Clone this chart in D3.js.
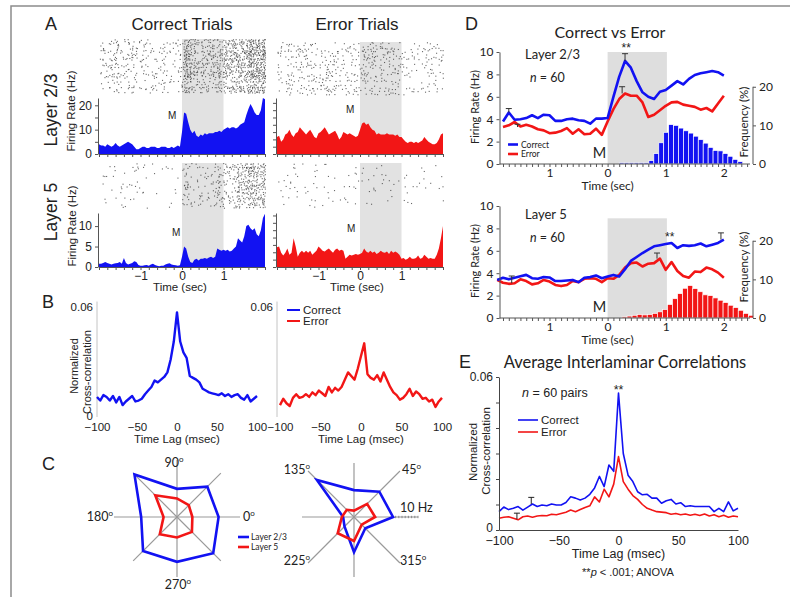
<!DOCTYPE html>
<html>
<head>
<meta charset="utf-8">
<script src="https://cdn.jsdelivr.net/npm/d3@7"></script>
<style>
  body { margin: 0; background: #fff; }
  svg { display: block; }
</style>
</head>
<body>
<svg id="fig" width="790" height="597"></svg>
<script>
// ---------------- data ----------------
// A: PSTH, 50 ms steps from -2 to 2 s
var psthTime = d3.range(81).map(function(i) { return -2 + i * 0.05; });
var psthCorrectL23 = [4,3.5,3.5,3,4,3.5,3,3.5,4.5,3.5,3,3.5,4,4.5,5,4.5,4,3,2,
  2,2.5,3,3,2.5,2.5,3,3,3,2.5,2.5,3,3,3,2.5,2.5,3,2.5,3,3.5,3,
  9,17,16.5,13,10,8.5,9.5,7.5,7,8,7.5,8.5,8,8.5,8.5,8.5,9,9,9.5,9,
  10,10.5,11,10.5,11,11,10.5,11,12,12.5,13,16,18.5,20.5,19,17,16,16,18,23,22.5];
var psthErrorL23 = [7,7.5,5,6,8,8.5,10,8,7,8.5,9,11,10,9,8,9,10,8.5,7,
  6.5,8.5,9,10,11,9.5,8,8.5,9,9.5,8,6,7,9,8.5,8,8.5,8,7.5,7,7.5,
  10,12.5,13,12,12.5,11,10,9.5,8,8.5,8,8,8,8.5,8,8,8,7.5,8,7,
  7,6,5,4.5,5,5,4.5,5,4.5,5,5.5,7,6,5,4.5,4,4,4.5,6,8,8.5];
var psthCorrectL5 = [0.8,0.8,1,1.2,1,0.8,0.6,0.8,0.9,1,1.2,0.8,2.2,1,0.6,0.8,1,1.4,1.2,
  0.5,0.3,0.3,0.4,0.5,0.3,0.6,0.8,0.5,0.3,0.2,0.3,0.3,0.6,0.8,0.9,0.6,0.5,0.4,0.3,0.4,
  2.5,5,4.5,2.5,1.2,1,1.8,2,1.6,2,2,2.2,2,2.3,2.5,2.2,2.5,4.5,4.2,4,
  4.2,4,4.2,3.8,4,4.5,5,7,6.5,6,7.5,10,10.3,9.5,9,9.5,8,7.5,9,12,13];
var psthErrorL5 = [4.8,5,3.5,2.8,3.5,4.5,3,3.5,7,5,2.5,3.5,4,3.5,4,3.5,4,3,3.5,
  4,5,4.5,4,3.8,4.2,4.5,4,3.5,4.2,4.5,4,4.2,4,2,2.5,3,2.8,3,3.2,3,
  3.2,3.5,4.5,3.8,3.5,4,3.5,3.8,3.2,3.5,4,3.6,3.5,3.8,3.2,4,3.5,3.8,3.5,3,
  2,2.2,1.8,2,2.5,2,2,2.2,2.8,2,2.2,3,2.5,2,2.2,2,2,3,4.5,7,10];

// B: cross-correlation, 4 ms steps from -100 to 100 ms
var lagB = d3.range(51).map(function(i) { return -100 + i * 4; });
var ccCorrectB = [.0105,.0085,.0115,.0105,.0085,.0110,.0075,.0105,.0060,.0080,.0095,.0110,.0080,.0085,.0095,.0120,.0140,.0160,.0195,.0185,.0200,.0215,.0240,.0310,.0410,
  .0570,.0410,.0350,.0320,.0220,.0210,.0200,.0185,.0150,.0140,.0130,.0125,.0120,.0115,.0125,.0110,.0120,.0105,.0115,.0120,.0100,.0090,.0115,.0080,.0095,.0110];
var ccErrorB = [.0060,.0095,.0070,.0055,.0100,.0120,.0100,.0105,.0120,.0105,.0130,.0115,.0140,.0125,.0110,.0160,.0130,.0155,.0140,.0160,.0200,.0240,.0220,.0200,.0260,
  .0330,.0400,.0230,.0210,.0200,.0225,.0190,.0240,.0200,.0160,.0130,.0115,.0090,.0100,.0120,.0150,.0110,.0135,.0120,.0095,.0100,.0080,.0090,.0050,.0080,.0100];

// C: firing rate by direction (Hz), angles 0..315
var dirAngles = [0, 45, 90, 135, 180, 225, 270, 315];
var tuneL23Left = [6.5, 6.7, 4.4, 9.4, 5.6, 7.5, 7.0, 8.0];
var tuneL5Left = [2.4, 2.6, 2.9, 4.8, 2.1, 3.8, 3.2, 3.3];
var tuneL23Right = [6.1, 5.6, 4.2, 8.2, 1.7, 2.1, 5.5, 2.5];
var tuneL5Right = [3.3, 2.9, 1.0, 1.6, 1.9, 3.6, 3.75, 1.7];

// D: firing rate, 100 ms steps
var timeDTop = d3.range(39).map(function(i) { return -1.8 + i * 0.1; });
var rateCorrectL23 = [3.8,4.6,3.95,4.0,4.1,4.35,4.1,4.4,4.35,3.85,3.85,4.0,4.05,3.9,3.85,3.6,4.05,4.05,4.1,
  6.0,7.8,9.2,8.6,7.4,6.4,6.0,5.8,6.45,6.6,7.0,7.4,7.1,7.6,7.95,8.1,8.2,8.3,8.2,7.9];
var rateErrorL23 = [3.3,3.45,3.75,3.35,3.5,3.35,3.1,3.0,2.75,2.8,2.95,3.2,2.7,3.1,2.65,2.7,3.15,2.6,3.8,
  4.9,5.8,6.3,6.1,6.1,5.5,4.2,4.4,4.8,5.2,5.5,5.55,5.3,5.2,5.1,4.85,5.0,4.7,5.4,6.1];
var timeDBottom = d3.range(40).map(function(i) { return -1.9 + i * 0.1; });
var rateCorrectL5 = [3.4,3.6,3.45,3.6,3.72,3.85,3.55,3.5,3.65,3.62,3.3,3.3,3.35,3.4,3.2,3.6,3.65,3.8,3.55,3.7,
  3.85,3.7,4.35,5.1,5.45,5.8,6.1,6.4,6.5,6.6,6.7,6.25,6.5,6.44,6.5,6.65,6.4,6.55,6.7,7.0];
var rateErrorL5 = [3.4,3.15,3.05,3.1,3.45,3.3,3.0,3.1,3.4,3.25,2.95,2.85,2.95,3.3,3.2,3.5,3.56,3.5,3.2,3.55,
  3.5,3.85,4.5,4.9,4.95,4.6,4.85,4.9,5.3,4.3,5.0,4.2,3.75,3.6,4.15,4.1,4.5,4.35,4.05,3.6];
// D: response time histograms (%)
var histCorrectL23 = [0.3,0.3,0.3,0.3,0.3,0.3,0.9,2.7,5.5,8.2,10.2,10.0,9.3,8.6,8.0,7.2,6.3,5.4,4.3,3.5,3.4,2.7,2.0,1.2,0.6];
var histErrorL5 = [0,0.3,0.5,0.7,0.9,0.8,0.9,1.2,1.6,2.2,3.5,5.0,6.3,7.7,8.4,7.6,6.8,6.0,5.8,5.2,4.6,4.0,3.3,2.7,2.0,1.2,0.7];

// E: average interlaminar correlation, 4 ms steps
var lagE = d3.range(51).map(function(i) { return -100 + i * 4; });
var ccCorrectE = [.0072,.0090,.0080,.0085,.0092,.0078,.0090,.0102,.0092,.0098,.0095,.0102,.0098,.0098,.0108,.0130,.0125,.0118,.0125,.0140,.0165,.0210,.0170,.0255,.0230,
  .0537,.0300,.0215,.0190,.0150,.0138,.0140,.0125,.0125,.0105,.0115,.0120,.0102,.0107,.0092,.0095,.0092,.0092,.0092,.0092,.0072,.0085,.0072,.0110,.0075,.0085];
var ccErrorE = [.0046,.0050,.0052,.0046,.0040,.0052,.0055,.0050,.0055,.0057,.0056,.0062,.0060,.0065,.0070,.0078,.0072,.0080,.0088,.0095,.0130,.0110,.0160,.0130,.0180,
  .0288,.0190,.0160,.0135,.0120,.0100,.0085,.0078,.0072,.0070,.0068,.0062,.0065,.0060,.0063,.0058,.0062,.0057,.0063,.0055,.0060,.0052,.0058,.0050,.0055,.0052];

var BLUE = '#1212f2';
var RED = '#f21616';
var ARIAL = '"Liberation Sans", Arial, sans-serif';
var CAL = 'Lato, "Open Sans", sans-serif';

var svg = d3.select('#fig');
svg.append('rect').attr('width', 790).attr('height', 597).attr('fill', '#fff');
// outer frame (left and top edges)
svg.append('path').attr('d', 'M11,597V6H790').attr('fill', 'none').attr('stroke', '#8c8c8c').attr('stroke-width', 1.5);

function txt(g, x, y, s, o) {
  o = o || {};
  var t = g.append('text').attr('x', x).attr('y', y).text(s)
    .attr('font-family', o.font || ARIAL)
    .attr('font-size', o.size || 11)
    .attr('fill', o.fill || '#222')
    .attr('text-anchor', o.anchor || 'start');
  if (o.rotate) t.attr('transform', 'rotate(-90,' + x + ',' + y + ')');
  if (o.style) t.attr('font-style', o.style);
  return t;
}

function styleAxis(ax, color, size, font) {
  ax.selectAll('path, line').attr('stroke', color);
  ax.selectAll('text').attr('fill', '#222').attr('font-size', size).attr('font-family', font || ARIAL);
}

// deterministic jitter for raster texture
function hash(a, b) {
  var s = Math.sin(a * 12.9898 + b * 78.233) * 43758.5453;
  return s - Math.floor(s);
}
function spikeDots(values, rows, gain, seed) {
  var dots = [];
  for (var r = 0; r < rows; r++) {
    var rowGain = 0.4 + 1.2 * hash(r + seed, 0.5);
    for (var i = 0; i < values.length - 1; i++) {
      var lam = values[i] * 0.05 * gain * rowGain;
      var n = Math.floor(lam + hash(r * 3.1 + seed, i * 1.3 + 0.7));
      for (var k = 0; k < n; k++) {
        dots.push({
          row: r + 0.8 * hash(r * 1.7 + k + seed, i * 0.9 + 3.1),
          t: psthTime[i] + 0.05 * hash(r + k * 5.3 + seed, i + k * 2.9 + 0.2)
        });
      }
    }
  }
  return dots;
}

// ---------------- panel A ----------------
function drawPsth(cfg) {
  var g = svg.append('g');
  var x = d3.scaleLinear().domain([-2, 2]).range([cfg.x0, cfg.x1]);
  var y = d3.scaleLinear().domain([0, cfg.yMax]).range([cfg.base, cfg.top]);
  g.append('rect').attr('x', x(0)).attr('width', x(1) - x(0))
    .attr('y', cfg.rasterTop).attr('height', cfg.base - cfg.rasterTop).attr('fill', '#e2e2e2');

  var rowH = (cfg.rasterBottom - cfg.rasterTop) / cfg.rows;
  g.selectAll('rect.spk').data(spikeDots(cfg.values, cfg.rows, cfg.gain, cfg.seed)).join('rect')
    .attr('class', 'spk')
    .attr('x', function(d) { return x(d.t); })
    .attr('y', function(d) { return cfg.rasterTop + d.row * rowH; })
    .attr('width', 1.1).attr('height', 1.1)
    .attr('fill', '#2a2a2a').attr('opacity', 0.7);

  var area = d3.area()
    .x(function(d, i) { return x(psthTime[i]); })
    .y0(cfg.base)
    .y1(function(d) { return y(d); });
  g.append('path').datum(cfg.values).attr('d', area).attr('fill', cfg.color);

  var yAx = g.append('g').attr('transform', 'translate(' + (cfg.x0 - 1) + ',0)')
    .call(d3.axisLeft(y).tickValues(cfg.ticks).tickSize(3).tickSizeOuter(0).tickPadding(3)
      .tickFormat(function(d) { return cfg.labels.indexOf(d) >= 0 ? d : ''; }));
  styleAxis(yAx, '#555', 12);

  var xAx = g.append('g').attr('transform', 'translate(0,' + cfg.base + ')')
    .call(d3.axisBottom(x).tickValues(d3.range(-2, 2.01, 0.2)).tickSize(3).tickSizeOuter(0).tickPadding(1)
      .tickFormat(function(d) {
        var r = Math.round(d * 10) / 10;
        return cfg.xLabels && (r === -1 || r === 0 || r === 1) ? d3.format('d')(r) : '';
      }));
  styleAxis(xAx, '#555', 12);

  txt(g, cfg.mx, cfg.my, 'M', {size: 10});
  if (cfg.xLabels) txt(g, cfg.titleX, cfg.base + 24, 'Time (sec)', {size: 11.5, anchor: 'middle'});
}

drawPsth({x0: 99, x1: 265, rasterTop: 39, rasterBottom: 93, base: 154, top: 98, yMax: 23,
  values: psthCorrectL23, color: BLUE, rows: 40, gain: 0.9, seed: 1,
  ticks: [0, 5, 10, 15, 20], labels: [0, 10, 20], xLabels: false, mx: 168, my: 119});
drawPsth({x0: 277, x1: 443, rasterTop: 42, rasterBottom: 95, base: 154, top: 98, yMax: 23,
  values: psthErrorL23, color: RED, rows: 20, gain: 0.7, seed: 7,
  ticks: d3.range(0, 23, 3), labels: [], xLabels: false, mx: 346, my: 113});
drawPsth({x0: 99, x1: 265, rasterTop: 163, rasterBottom: 208, base: 267, top: 213, yMax: 13.2,
  values: psthCorrectL5, color: BLUE, rows: 30, gain: 1.4, seed: 13,
  ticks: [0, 5, 10], labels: [0, 5, 10], xLabels: true, titleX: 180, mx: 172, my: 236});
drawPsth({x0: 277, x1: 443, rasterTop: 163, rasterBottom: 208, base: 267, top: 213, yMax: 13.2,
  values: psthErrorL5, color: RED, rows: 14, gain: 0.6, seed: 21,
  ticks: d3.range(0, 13.2, 1.8), labels: [], xLabels: true, titleX: 357, mx: 347, my: 232});

var gA = svg.append('g');
txt(gA, 45, 30, 'A', {size: 18});
txt(gA, 182, 30, 'Correct Trials', {size: 17, anchor: 'middle'});
txt(gA, 357, 30, 'Error Trials', {size: 17, anchor: 'middle'});
txt(gA, 57, 110, 'Layer 2/3', {size: 17.5, anchor: 'middle', rotate: true});
txt(gA, 57, 212, 'Layer 5', {size: 17.5, anchor: 'middle', rotate: true});
txt(gA, 75, 111, 'Firing Rate (Hz)', {size: 11.5, anchor: 'middle', rotate: true});
txt(gA, 76, 226, 'Firing Rate (Hz)', {size: 11.5, anchor: 'middle', rotate: true});

// ---------------- panel B ----------------
function drawB(cfg) {
  var g = svg.append('g');
  var x = d3.scaleLinear().domain([-100, 100]).range([cfg.x0, cfg.x1]);
  var y = d3.scaleLinear().domain([0, 0.06]).range([416, 307]);
  g.append('line').attr('x1', cfg.axisX).attr('x2', cfg.axisX).attr('y1', y(0.063)).attr('y2', y(0) + 1)
    .attr('stroke', '#c4c4c4').attr('stroke-width', 1);
  var xAx = g.append('g').attr('transform', 'translate(0,' + y(0) + ')')
    .call(d3.axisBottom(x).tickValues([-100, -50, 0, 50, 100]).tickSize(0).tickPadding(7));
  xAx.select('.domain').remove();
  styleAxis(xAx, '#555', 11.5);
  txt(g, (cfg.x0 + cfg.x1) / 2, 443, 'Time Lag (msec)', {size: 11.5, anchor: 'middle'});
  txt(g, cfg.axisX - 4, y(0.06) + 4, '0.06', {size: 11.5, anchor: 'end'});
  if (cfg.zeroLabel) txt(g, cfg.axisX - 4, y(0) + 4, '0', {size: 11.5, anchor: 'end'});
  var line = d3.line().x(function(d, i) { return x(lagB[i]); }).y(function(d) { return y(d); });
  g.append('path').datum(cfg.values).attr('d', line).attr('fill', 'none')
    .attr('stroke', cfg.color).attr('stroke-width', 2.4).attr('stroke-linejoin', 'round');
}
drawB({x0: 97, x1: 257, axisX: 97, values: ccCorrectB, color: BLUE, zeroLabel: true});
drawB({x0: 280, x1: 442, axisX: 277, values: ccErrorB, color: RED, zeroLabel: false});

var gB = svg.append('g');
txt(gB, 42, 308, 'B', {size: 18});
txt(gB, 78, 366, 'Normalized', {size: 11, anchor: 'middle', rotate: true});
txt(gB, 91, 372, 'Cross-correlation', {size: 11, anchor: 'middle', rotate: true});
[[BLUE, 'Correct'], [RED, 'Error']].forEach(function(d, i) {
  var yy = 310 + i * 11;
  gB.append('line').attr('x1', 287).attr('x2', 300).attr('y1', yy).attr('y2', yy)
    .attr('stroke', d[0]).attr('stroke-width', 2);
  txt(gB, 303, yy + 4, d[1], {size: 11.5});
});

// ---------------- panel C ----------------
function degLabel(g, x, y, num, anchor) {
  var t = txt(g, x, y, num, {font: CAL, size: 12.5, anchor: anchor || 'start'});
  t.append('tspan').attr('dy', -5).attr('font-size', 8).text('o');
}

function drawRadar(cfg) {
  var g = svg.append('g');
  var r = d3.scaleLinear().domain([0, 10]).range([0, 64]);
  dirAngles.forEach(function(a) {
    var rad = a * Math.PI / 180;
    var len = cfg.axisLen[a] || 62;
    g.append('line').attr('x1', cfg.cx).attr('y1', cfg.cy)
      .attr('x2', cfg.cx + len * Math.cos(rad)).attr('y2', cfg.cy - len * Math.sin(rad))
      .attr('stroke', '#9a9a9a').attr('stroke-width', 1.2);
  });
  if (cfg.scaleTicks) {
    d3.range(6, 10.01, 0.5).forEach(function(v) {
      g.append('line').attr('x1', cfg.cx + r(v)).attr('x2', cfg.cx + r(v))
        .attr('y1', cfg.cy - 1.2).attr('y2', cfg.cy + 1.2).attr('stroke', '#777').attr('stroke-width', 0.8);
    });
  }
  var line = d3.line().curve(d3.curveLinearClosed);
  cfg.series.forEach(function(s) {
    var pts = s.values.map(function(v, i) {
      var rad = dirAngles[i] * Math.PI / 180;
      return [cfg.cx + r(v) * Math.cos(rad), cfg.cy - r(v) * Math.sin(rad)];
    });
    g.append('path').attr('d', line(pts)).attr('fill', 'none')
      .attr('stroke', s.color).attr('stroke-width', 2.6).attr('stroke-linejoin', 'miter');
  });
}
drawRadar({cx: 177, cy: 517, axisLen: {90: 57, 270: 60, 0: 63, 180: 63},
  series: [{values: tuneL23Left, color: BLUE}, {values: tuneL5Left, color: RED}]});
drawRadar({cx: 354, cy: 517, axisLen: {0: 64, 180: 52, 90: 54, 270: 60, 45: 65, 135: 65, 225: 65, 315: 65},
  scaleTicks: true,
  series: [{values: tuneL23Right, color: BLUE}, {values: tuneL5Right, color: RED}]});

var gC = svg.append('g');
txt(gC, 42, 470, 'C', {size: 18});
degLabel(gC, 174, 467, '90', 'middle');
degLabel(gC, 243, 521, '0');
degLabel(gC, 113, 521, '180', 'end');
degLabel(gC, 178, 589, '270', 'middle');
degLabel(gC, 310, 474, '135', 'end');
degLabel(gC, 402, 474, '45');
txt(gC, 400, 512, '10 Hz', {font: CAL, size: 12.5});
degLabel(gC, 310, 565, '225', 'end');
degLabel(gC, 400, 565, '315');
[[BLUE, 'Layer 2/3'], [RED, 'Layer 5']].forEach(function(d, i) {
  var yy = 537 + i * 10;
  gC.append('line').attr('x1', 238).attr('x2', 249).attr('y1', yy).attr('y2', yy)
    .attr('stroke', d[0]).attr('stroke-width', 2.6);
  txt(gC, 251, yy + 3, d[1], {font: CAL, size: 8.5});
});

// ---------------- panel D ----------------
function drawD(cfg) {
  var g = svg.append('g');
  var x = d3.scaleLinear().domain([-1.86, 2.45]).range([499.5, 750]);
  var y = d3.scaleLinear().domain([0, 10]).range([cfg.base, cfg.base - 112]);
  var yR = d3.scaleLinear().domain([0, 29]).range([cfg.base, cfg.base - 112]);

  g.append('rect').attr('x', x(0)).attr('width', x(1.02) - x(0))
    .attr('y', y(cfg.shadeTop)).attr('height', cfg.base - y(cfg.shadeTop)).attr('fill', '#dedede');

  g.selectAll('rect.bar').data(cfg.hist).join('rect').attr('class', 'bar')
    .attr('x', function(d, k) { return x(cfg.histStart + k * cfg.histWidth); })
    .attr('width', x(cfg.histWidth) - x(0))
    .attr('y', function(d) { return yR(d); })
    .attr('height', function(d) { return cfg.base - yR(d); })
    .attr('fill', cfg.histColor).attr('stroke', '#fff').attr('stroke-width', 0.7);

  var line = d3.line().x(function(d, i) { return x(cfg.times[i]); }).y(function(d) { return y(d); });
  [[cfg.red, RED], [cfg.blue, BLUE]].forEach(function(s) {
    g.append('path').datum(s[0]).attr('d', line).attr('fill', 'none')
      .attr('stroke', s[1]).attr('stroke-width', 2.6).attr('stroke-linejoin', 'round');
  });

  cfg.errBars.forEach(function(e) {
    g.append('line').attr('x1', x(e.t)).attr('x2', x(e.t)).attr('y1', y(e.v)).attr('y2', y(e.hi))
      .attr('stroke', '#333').attr('stroke-width', 1);
    g.append('line').attr('x1', x(e.t) - 3).attr('x2', x(e.t) + 3).attr('y1', y(e.hi)).attr('y2', y(e.hi))
      .attr('stroke', '#333').attr('stroke-width', 1);
  });

  var yAx = g.append('g').attr('transform', 'translate(499.5,0)')
    .call(d3.axisLeft(y).tickValues([0, 2, 4, 6, 8, 10]).tickSize(3).tickSizeOuter(0).tickPadding(3));
  styleAxis(yAx, '#555', 12, CAL);

  var rAx = g.append('g').attr('transform', 'translate(753,0)')
    .call(d3.axisRight(yR).tickValues([0, 10, 20]).tickSize(3).tickSizeOuter(0).tickPadding(3));
  rAx.select('.domain').attr('d', 'M0,' + yR(0) + 'V' + yR(20));
  styleAxis(rAx, '#555', 12, CAL);

  var xAx = g.append('g').attr('transform', 'translate(0,' + cfg.base + ')')
    .call(d3.axisBottom(x).tickValues(d3.range(-1.8, 2.45, 0.1)).tickSize(3).tickSizeOuter(0).tickPadding(1)
      .tickFormat(function(d) {
        var r = Math.round(d * 10) / 10;
        return (r === -1 || r === 0 || r === 1 || r === 2) ? Math.abs(r) : '';
      }));
  xAx.select('.domain').attr('d', 'M' + x(-1.86) + ',0H' + x(2.45));
  styleAxis(xAx, '#555', 12, CAL);

  txt(g, x(0), cfg.base + 26, 'Time (sec)', {font: CAL, size: 12, anchor: 'middle'});
  txt(g, 478.5, cfg.base - 57, 'Firing Rate (Hz)', {font: CAL, size: 11, anchor: 'middle', rotate: true});
  txt(g, 748, cfg.freqY, 'Frequency (%)', {font: CAL, size: 11.5, anchor: 'middle', rotate: true});
  txt(g, 525, cfg.layerY, cfg.layer, {font: CAL, size: 13});
  var n = txt(g, 530, cfg.layerY + 23, '', {font: CAL, size: 12.5});
  n.append('tspan').attr('font-style', 'italic').text('n');
  n.append('tspan').text(' = 60');
  txt(g, x(cfg.starT), cfg.starY, '**', {size: 12, anchor: 'middle'});
  txt(g, x(-0.14), cfg.base - 6, 'M', {font: CAL, size: 14.5, anchor: 'middle'});
  return g;
}

var gD1 = drawD({base: 164, shadeTop: 10, times: timeDTop, blue: rateCorrectL23, red: rateErrorL23,
  hist: histCorrectL23, histStart: 0.2, histWidth: 0.085, histColor: BLUE,
  errBars: [{t: -1.7, v: 4.6, hi: 4.95}, {t: -1.55, v: 3.3, hi: 3.55}, {t: 0.3, v: 9.2, hi: 9.85}, {t: 0.25, v: 6.3, hi: 6.9}],
  layer: 'Layer 2/3', layerY: 59, starT: 0.32, starY: 52, freqY: 122});
[[BLUE, 'Correct'], [RED, 'Error']].forEach(function(d, i) {
  var yy = 144.5 + i * 9.5;
  gD1.append('line').attr('x1', 508).attr('x2', 518).attr('y1', yy).attr('y2', yy)
    .attr('stroke', d[0]).attr('stroke-width', 2.6);
  txt(gD1, 521, yy + 3, d[1], {font: CAL, size: 8.5});
});
drawD({base: 318, shadeTop: 8.9, times: timeDBottom, blue: rateCorrectL5, red: rateErrorL5,
  hist: histErrorL5, histStart: 0.16, histWidth: 0.087, histColor: RED,
  errBars: [{t: -1.65, v: 3.1, hi: 3.75}, {t: 0.85, v: 5.3, hi: 5.8}, {t: 1.95, v: 7.0, hi: 7.6}],
  layer: 'Layer 5', layerY: 219, starT: 1.07, starY: 241, freqY: 267});

var gD = svg.append('g');
txt(gD, 465, 30, 'D', {size: 18});
txt(gD, 610, 38, 'Correct vs Error', {font: CAL, size: 16, anchor: 'middle'});

// ---------------- panel E ----------------
var gE = svg.append('g');
var xE = d3.scaleLinear().domain([-100, 100]).range([499, 738]);
var yE = d3.scaleLinear().domain([0, 0.06]).range([530, 377]);
var lineE = d3.line().x(function(d, i) { return xE(lagE[i]); }).y(function(d) { return yE(d); });
[[ccErrorE, RED], [ccCorrectE, BLUE]].forEach(function(s) {
  gE.append('path').datum(s[0]).attr('d', lineE).attr('fill', 'none')
    .attr('stroke', s[1]).attr('stroke-width', 1.6).attr('stroke-linejoin', 'round');
});
var errE = [{t: -73, v: .0102, hi: .0128}, {t: -85, v: .0042, hi: .0066}];
errE.forEach(function(e) {
  gE.append('line').attr('x1', xE(e.t)).attr('x2', xE(e.t)).attr('y1', yE(e.v)).attr('y2', yE(e.hi))
    .attr('stroke', '#222').attr('stroke-width', 1);
  gE.append('line').attr('x1', xE(e.t) - 3).attr('x2', xE(e.t) + 3).attr('y1', yE(e.hi)).attr('y2', yE(e.hi))
    .attr('stroke', '#222').attr('stroke-width', 1);
});
var eyAx = gE.append('g').attr('transform', 'translate(499,0)')
  .call(d3.axisLeft(yE).tickValues(d3.range(0, 0.0601, 0.01)).tickSize(3).tickSizeOuter(0).tickPadding(3)
    .tickFormat(function(d) { return d < 1e-9 ? '0' : (d > 0.059 ? '0.06' : ''); }));
styleAxis(eyAx, '#444', 12);
eyAx.selectAll('text').filter(function() { return this.textContent === '0'; }).attr('dy', '0.1em');
var exAx = gE.append('g').attr('transform', 'translate(0,530)')
  .call(d3.axisBottom(xE).tickValues([-100, -50, 0, 50, 100]).tickSize(0).tickSizeOuter(0).tickPadding(6));
styleAxis(exAx, '#444', 12.5);
txt(gE, 459, 368, 'E', {size: 18});
txt(gE, 625, 368, 'Average Interlaminar Correlations', {font: CAL, size: 16.5, anchor: 'middle'});
var nE = txt(gE, 522, 397, '', {size: 12.5});
nE.append('tspan').attr('font-style', 'italic').text('n');
nE.append('tspan').text(' = 60 pairs');
txt(gE, xE(0), 394, '**', {size: 12.5, anchor: 'middle'});
[[BLUE, 'Correct'], [RED, 'Error']].forEach(function(d, i) {
  var yy = 420 + i * 12;
  gE.append('line').attr('x1', 518).attr('x2', 538).attr('y1', yy).attr('y2', yy)
    .attr('stroke', d[0]).attr('stroke-width', 1.6);
  txt(gE, 541, yy + 4.2, d[1], {size: 11.5});
});
txt(gE, 477, 452, 'Normalized', {size: 11.5, anchor: 'middle', rotate: true});
txt(gE, 490, 451, 'Cross-correlation', {size: 11.5, anchor: 'middle', rotate: true});
txt(gE, xE(0), 558, 'Time Lag (msec)', {size: 12.5, anchor: 'middle'});
var pE = txt(gE, 628, 576, '**', {size: 11, anchor: 'middle'});
pE.append('tspan').attr('font-style', 'italic').text('p');
pE.append('tspan').text(' < .001; ANOVA');
</script>
</body>
</html>
